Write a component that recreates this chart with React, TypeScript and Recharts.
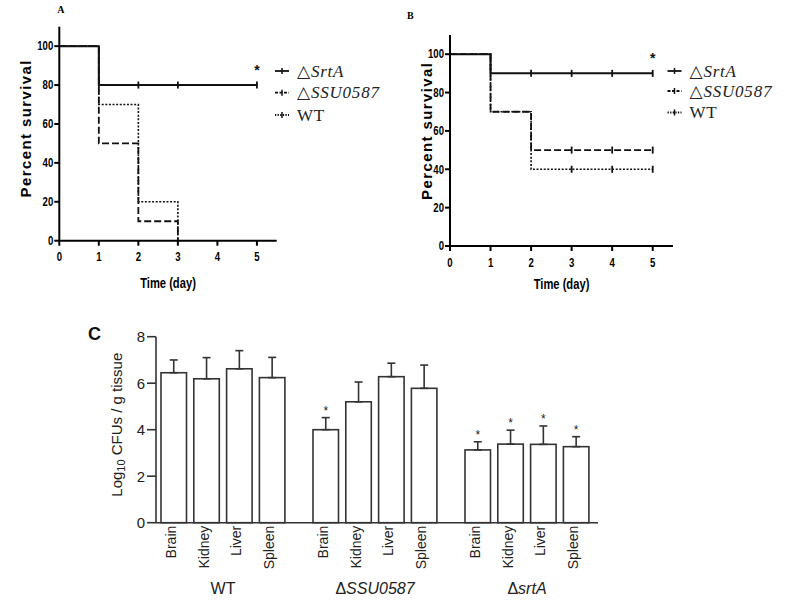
import React from 'react';
import { LineChart, Line, XAxis, YAxis, Label, BarChart, Bar, ErrorBar } from 'recharts';

// ---------------- Survival data (panels A and B) ----------------
const days = [0, 1, 2, 3, 4, 5];
const dayTicks = [0, 1, 2, 3, 4, 5];
const survivalTicks = [0, 20, 40, 60, 80, 100];
const strainKeys = ['wt', 'ssu', 'srtA'];
const legendKeys = ['srtA', 'ssu', 'wt'];
const strainLabels: Record<string, string> = { srtA: '△SrtA', ssu: '△SSU0587', wt: 'WT' };

const aSrtA = [100, 80, 80, 80, 80, 80];
const aSSU = [100, 50, 10, 0, null, null];
const aWT = [100, 70, 20, 0, null, null];
const aSrtACensored = [0, 0, 1, 1, 0, 1];
const aSSUCensored = [0, 0, 0, 0, 0, 0];
const aWTCensored = [0, 0, 0, 0, 0, 0];

const bSrtA = [100, 90, 90, 90, 90, 90];
const bSSU = [100, 70, 50, 50, 50, 50];
const bWT = [100, 70, 40, 40, 40, 40];
const bSrtACensored = [0, 0, 1, 1, 1, 1];
const bSSUCensored = [0, 0, 0, 1, 1, 1];
const bWTCensored = [0, 0, 0, 1, 1, 1];

// ---------------- CFU data (panel C) ----------------
const groups = ['WT', 'ΔSSU0587', 'ΔsrtA'];
const organs = ['Brain', 'Kidney', 'Liver', 'Spleen'];
const wtMean = [6.45, 6.19, 6.62, 6.24];
const wtSem = [0.55, 0.91, 0.78, 0.87];
const ssuMean = [4.0, 5.2, 6.28, 5.78];
const ssuSem = [0.52, 0.85, 0.58, 1.0];
const srtMean = [3.13, 3.38, 3.37, 3.27];
const srtSem = [0.35, 0.6, 0.79, 0.43];
const wtSig = [false, false, false, false];
const ssuSig = [true, false, false, false];
const srtSig = [true, true, true, true];
const cfuTicks = [0, 2, 4, 6, 8];

// ---------------- build tables ----------------
const buildSurvival = (srtA: any[], ssu: any[], wt: any[]) =>
  days.map((d, i) => ({ day: d, srtA: srtA[i], ssu: ssu[i], wt: wt[i] }));

const rowsA = buildSurvival(aSrtA, aSSU, aWT);
const rowsB = buildSurvival(bSrtA, bSSU, bWT);
const censorA: Record<string, number[]> = { srtA: aSrtACensored, ssu: aSSUCensored, wt: aWTCensored };
const censorB: Record<string, number[]> = { srtA: bSrtACensored, ssu: bSSUCensored, wt: bWTCensored };

const means = [wtMean, ssuMean, srtMean];
const sems = [wtSem, ssuSem, srtSem];
const sigs = [wtSig, ssuSig, srtSig];
const cfuRows = groups.map((g, gi) => {
  const row: any = { group: g };
  organs.forEach((o, oi) => {
    row[o] = means[gi][oi];
    row[o + 'Err'] = [0, sems[gi][oi]];
    row[o + 'Sem'] = sems[gi][oi];
    row[o + 'Sig'] = sigs[gi][oi];
  });
  return row;
});

// ---------------- styles ----------------
const SANS = "'Liberation Sans', Arial, sans-serif";
const SERIF = "'Liberation Serif', 'Times New Roman', 'DejaVu Serif', serif";
const INK = '#111';
const NARROW_SCALE = 0.8;
const STYLE: Record<string, { dash?: string; width: number; sample?: string }> = {
  srtA: { dash: undefined, width: 2, sample: undefined },
  ssu: { dash: '7 3', width: 1.8, sample: '3 1.5' },
  wt: { dash: '2 1.6', width: 1.6, sample: '1.3 1.3' },
};

// condensed bold tick label (GraphPad style narrow font)
const NarrowTick = (props: any) => {
  const { x, y, payload, isX } = props;
  return (
    <text
      transform={`translate(${x} ${y}) scale(${NARROW_SCALE} 1)`}
      textAnchor={isX ? 'middle' : 'end'}
      dy={isX ? '0.71em' : '0.355em'}
      fontFamily={SANS}
      fontWeight="bold"
      fontSize={12}
      fill="#000"
    >
      {payload.value}
    </text>
  );
};

const censorDot = (key: string, flags: number[], starred: boolean) => (props: any) => {
  const { cx, cy, index } = props;
  if (cx == null || cy == null || !flags[index]) return <g key={`${key}-d-${index}`} />;
  const last = index === days.length - 1;
  return (
    <g key={`${key}-d-${index}`}>
      <line x1={cx} x2={cx} y1={cy - 3.5} y2={cy + 3.5} stroke={INK} strokeWidth={1.8} />
      {starred && last ? (
        <text x={cx} y={cy - 10} textAnchor="middle" fontSize={14} fontWeight="bold" fontFamily={SANS} fill={INK}>
          *
        </text>
      ) : null}
    </g>
  );
};

type PanelProps = {
  left: number;
  top: number;
  width: number;
  height: number;
  margin: { top: number; right: number; bottom: number; left: number };
  rows: any[];
  censor: Record<string, number[]>;
  yLabelDx: number;
  yLabelDy: number;
  xLabelDy: number;
};

function SurvivalPanel(p: PanelProps) {
  return (
    <div style={{ position: 'absolute', left: p.left, top: p.top }}>
      <LineChart width={p.width} height={p.height} data={p.rows} margin={p.margin}>
        <XAxis
          dataKey="day"
          type="number"
          domain={[0, 5.5]}
          ticks={dayTicks}
          height={30}
          tickSize={5}
          tickMargin={7}
          axisLine={{ stroke: '#000', strokeWidth: 2 }}
          tickLine={{ stroke: '#000', strokeWidth: 2 }}
          tick={<NarrowTick isX />}
        >
          <Label
            content={(lp: any) => {
              const vb = lp.viewBox || {};
              const cx = vb.x + vb.width / 2;
              const cy = vb.y + p.xLabelDy;
              return (
                <text
                  transform={`translate(${cx} ${cy}) scale(${NARROW_SCALE} 1)`}
                  textAnchor="middle"
                  fontFamily={SANS}
                  fontWeight="bold"
                  fontSize={14}
                  fill="#000"
                >
                  Time (day)
                </text>
              );
            }}
          />
        </XAxis>
        <YAxis
          type="number"
          domain={[0, 110]}
          ticks={survivalTicks}
          width={40}
          tickSize={5}
          tickMargin={1}
          axisLine={{ stroke: '#000', strokeWidth: 2 }}
          tickLine={{ stroke: '#000', strokeWidth: 2 }}
          tick={<NarrowTick />}
        >
          <Label
            content={(lp: any) => {
              const vb = lp.viewBox || {};
              const ax = vb.x + vb.width - p.yLabelDx;
              const ay = vb.y + vb.height / 2 + p.yLabelDy;
              return (
                <text
                  x={ax}
                  y={ay}
                  transform={`rotate(-90 ${ax} ${ay})`}
                  textAnchor="middle"
                  fontFamily={SANS}
                  fontWeight="bold"
                  fontSize={15}
                  letterSpacing={1.4}
                  fill="#000"
                >
                  Percent survival
                </text>
              );
            }}
          />
        </YAxis>
        {strainKeys.map((k) => (
          <Line
            key={k}
            dataKey={k}
            type="stepAfter"
            stroke={INK}
            strokeWidth={STYLE[k].width}
            strokeDasharray={STYLE[k].dash}
            dot={censorDot(k, p.censor[k], k === 'srtA')}
            activeDot={false}
            connectNulls={false}
            isAnimationActive={false}
          />
        ))}
      </LineChart>
    </div>
  );
}

function SurvivalLegend({ x, ys }: { x: number; ys: number[] }) {
  return (
    <g>
      {legendKeys.map((k, i) => {
        const cy = ys[i];
        const label = strainLabels[k];
        const isDelta = label.startsWith('△');
        return (
          <g key={k}>
            <line x1={x} x2={x + 14} y1={cy} y2={cy} stroke={INK} strokeWidth={1.8} strokeDasharray={STYLE[k].sample} />
            <line x1={x + 7} x2={x + 7} y1={cy - 3} y2={cy + 3} stroke={INK} strokeWidth={1.5} />
            <text x={x + 22} y={cy + 5.5} fontFamily={SERIF} fontSize={17} fill="#222" letterSpacing={0.8}>
              {isDelta ? (
                <>
                  <tspan fontStyle="italic">△</tspan>
                  <tspan fontStyle="italic">{label.slice(1)}</tspan>
                </>
              ) : (
                label
              )}
            </text>
          </g>
        );
      })}
    </g>
  );
}

// ---------------- panel C ----------------
const BAR_SIZE = 25.5;
const BAR_GAP = 7.3;

const makeShape = (organ: string) => (props: any) => {
  const { x, y, width, height, payload } = props;
  const val = payload[organ];
  const sem = payload[organ + 'Sem'];
  const sig = payload[organ + 'Sig'];
  const base = y + height;
  const pxPerUnit = val ? height / val : 0;
  const errTop = base - (val + sem) * pxPerUnit;
  const cx = x + width / 2;
  const lx = cx + 2;
  const ly = base + 3;
  return (
    <g>
      <rect x={x} y={y} width={width} height={height} fill="#fff" stroke="#333" strokeWidth={1.6} />
      {sig ? (
        <text x={cx} y={errTop - 3} textAnchor="middle" fontSize={12} fontFamily={SANS} fill="#222">
          *
        </text>
      ) : null}
      <text
        x={lx}
        y={ly}
        transform={`rotate(-90 ${lx} ${ly})`}
        textAnchor="end"
        fontSize={14}
        fontFamily={SANS}
        fill="#222"
      >
        {organ}
      </text>
    </g>
  );
};

const GroupTick = (props: any) => {
  const { x, y, payload } = props;
  const g: string = payload.value;
  const delta = g.startsWith('Δ');
  return (
    <text x={x} y={y + 71} textAnchor="middle" fontSize={16} fontFamily={SANS} fill="#222">
      {delta ? (
        <>
          <tspan>Δ</tspan>
          <tspan fontStyle="italic">{g.slice(1)}</tspan>
        </>
      ) : (
        g
      )}
    </text>
  );
};

function CfuPanel() {
  return (
    <div style={{ position: 'absolute', left: 0, top: 300 }}>
      <BarChart
        width={787}
        height={305}
        data={cfuRows}
        margin={{ top: 36.7, right: 189, bottom: 0, left: 96 }}
        barGap={BAR_GAP}
      >
        <XAxis
          dataKey="group"
          type="category"
          interval={0}
          height={82.3}
          padding={{ left: -9, right: -5 }}
          tickLine={false}
          tickSize={0}
          tickMargin={0}
          axisLine={{ stroke: '#333', strokeWidth: 1.6 }}
          tick={<GroupTick />}
        />
        <YAxis
          type="number"
          domain={[0, 8]}
          ticks={cfuTicks}
          width={60}
          tickSize={9}
          tickMargin={2}
          axisLine={{ stroke: '#333', strokeWidth: 1.6 }}
          tickLine={{ stroke: '#333', strokeWidth: 1.6 }}
          tick={{ fontFamily: SANS, fontSize: 15, fill: '#222' }}
        >
          <Label
            content={(lp: any) => {
              const vb = lp.viewBox || {};
              const ax = vb.x + vb.width - 34;
              const ay = vb.y + vb.height / 2 - 5;
              return (
                <text
                  x={ax}
                  y={ay}
                  transform={`rotate(-90 ${ax} ${ay})`}
                  textAnchor="middle"
                  fontFamily={SANS}
                  fontSize={15}
                  fill="#222"
                >
                  Log
                  <tspan fontSize={11} dy={3}>
                    10
                  </tspan>
                  <tspan dy={-3}> CFUs / g tissue</tspan>
                </text>
              );
            }}
          />
        </YAxis>
        {organs.map((o) => (
          <Bar key={o} dataKey={o} barSize={BAR_SIZE} shape={makeShape(o)} isAnimationActive={false}>
            <ErrorBar dataKey={o + 'Err'} direction="y" width={4} stroke="#333" strokeWidth={1.6} />
          </Bar>
        ))}
      </BarChart>
    </div>
  );
}

export default function App() {
  return (
    <div
      style={{
        position: 'absolute',
        left: 0,
        top: 0,
        width: 787,
        height: 605,
        background: '#fff',
        overflow: 'hidden',
        fontFamily: SANS,
      }}
    >
      <SurvivalPanel
        left={0}
        top={0}
        width={400}
        height={300}
        margin={{ top: 26.7, right: 123.3, bottom: 29.3, left: 19.3 }}
        rows={rowsA}
        censor={censorA}
        yLabelDx={27.8}
        yLabelDy={-5.4}
        xLabelDy={47.5}
      />
      <SurvivalPanel
        left={400}
        top={0}
        width={387}
        height={300}
        margin={{ top: 35, right: 114, bottom: 24, left: 10 }}
        rows={rowsB}
        censor={censorB}
        yLabelDx={18.3}
        yLabelDy={-9.7}
        xLabelDy={43}
      />
      <CfuPanel />
      <svg
        width={787}
        height={605}
        style={{ position: 'absolute', left: 0, top: 0, pointerEvents: 'none' }}
      >
        <text x={57.3} y={12.7} fontFamily={SERIF} fontWeight="bold" fontSize={10} fill="#000">
          A
        </text>
        <text x={407} y={19.3} fontFamily={SERIF} fontWeight="bold" fontSize={10} fill="#000">
          B
        </text>
        <text x={88} y={340} fontFamily={SANS} fontWeight="bold" fontSize={18} fill="#111">
          C
        </text>
        <SurvivalLegend x={275} ys={[71, 92.7, 115]} />
        <SurvivalLegend x={667.5} ys={[71, 91, 112.5]} />
      </svg>
    </div>
  );
}
